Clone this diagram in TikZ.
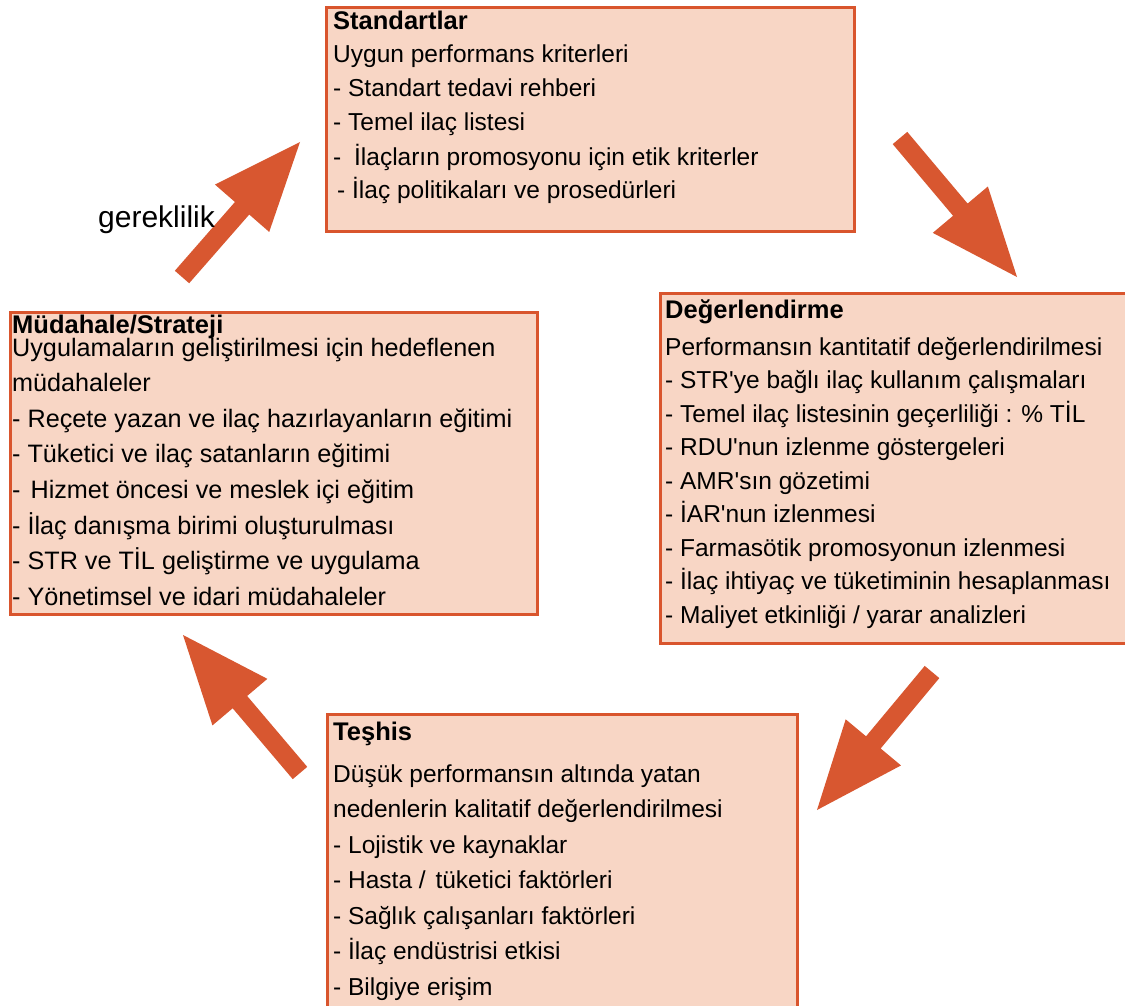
\documentclass[tikz,border=0pt]{standalone}
\usepackage{fontspec}
\setmainfont{Liberation Sans}
\usetikzlibrary{calc}
\definecolor{boxfill}{RGB}{248,214,197}
\definecolor{boxline}{RGB}{217,85,45}
\definecolor{arrowc}{RGB}{216,87,48}
\tikzset{
  panel/.style={draw=boxline, fill=boxfill, line width=3pt, anchor=north west, inner sep=0pt},
  txt/.style={font=\fontsize{24.5}{28}\selectfont, inner sep=0pt, anchor=base west, text=black},
  txtm/.style={txt, font=\fontsize{25.2}{28}\selectfont},
  ttl/.style={txt, font=\fontsize{25.5}{28}\selectfont\bfseries},
}
\newcommand\blockarrow[3]{%
  \coordinate (#3h) at ($(#2)!88pt!(#1)$);
  \fill[arrowc] ($(#1)!9.5pt!90:(#2)$) -- ($(#3h)!9.5pt!90:(#2)$) -- ($(#3h)!36pt!90:(#2)$)
     -- (#2) -- ($(#3h)!36pt!-90:(#2)$) -- ($(#3h)!9.5pt!-90:(#2)$) -- ($(#1)!9.5pt!-90:(#2)$) -- cycle;
}
\begin{document}
\begin{tikzpicture}[x=1pt,y=-1pt]
\clip (0,0) rectangle (1125,1006);
\fill[white] (0,0) rectangle (1125,1006);

% boxes
\node[panel, minimum width=528pt, minimum height=224pt] (std) at (325,6) {};
\node[panel, minimum width=480pt, minimum height=350pt] (deg) at (659,292) {};
\node[panel, minimum width=470pt, minimum height=310pt] (tes) at (326,713) {};
\node[panel, minimum width=527pt, minimum height=302pt] (mud) at (9,311) {};

% Standartlar
\node[ttl] (std0) at (333,30) {Standartlar};
\foreach \t [count=\i] in {Uygun performans kriterleri,
  - Standart tedavi rehberi,
  - Temel ilaç listesi,
  -\hspace{6pt} İlaçların promosyonu için etik kriterler,
  \hspace*{4pt}- İlaç politikaları ve prosedürleri}
  \node[txt] (std\i) at (333,{63+34*(\i-1)}) {\t};

% Degerlendirme
\node[ttl] (deg0) at (665,318) {Değerlendirme};
\foreach \t [count=\i] in {Performansın kantitatif değerlendirilmesi,
  - STR\textquotesingle ye bağlı ilaç kullanım çalışmaları,
  - Temel ilaç listesinin geçerliliği : \% TİL,
  - RDU\textquotesingle nun izlenme göstergeleri,
  - AMR\textquotesingle sın gözetimi,
  - İAR\textquotesingle nun izlenmesi,
  - Farmasötik promosyonun izlenmesi,
  - İlaç ihtiyaç ve tüketiminin hesaplanması,
  - Maliyet etkinliği / yarar analizleri}
  \node[txt] (deg\i) at (665,{355+33.5*(\i-1)}) {\t};

% Teshis
\node[ttl] (tes0) at (333,740) {Teşhis};
\foreach \t [count=\i] in {Düşük performansın altında yatan,
  nedenlerin kalitatif değerlendirilmesi,
  - Lojistik ve kaynaklar,
  - Hasta /\hspace{3pt} tüketici faktörleri,
  - Sağlık çalışanları faktörleri,
  - İlaç endüstrisi etkisi,
  - Bilgiye erişim}
  \node[txt] (tes\i) at (333,{782+35.5*(\i-1)}) {\t};

% Mudahale
\node[ttl] (mud0) at (12,333) {Müdahale/Strateji};
\foreach \t [count=\i] in {Uygulamaların geliştirilmesi için hedeflenen,
  müdahaleler,
  - Reçete yazan ve ilaç hazırlayanların eğitimi,
  - Tüketici ve ilaç satanların eğitimi,
  -\hspace{3pt} Hizmet öncesi ve meslek içi eğitim,
  - İlaç danışma birimi oluşturulması,
  - STR ve TİL geliştirme ve uygulama,
  - Yönetimsel ve idari müdahaleler}
  \node[txtm] (mud\i) at (12,{356+35.6*(\i-1)}) {\t};

% arrows
\coordinate (a1t) at (900,138);  \coordinate (a1h) at (1017,277);
\coordinate (a2t) at (932,672);  \coordinate (a2h) at (817,810);
\coordinate (a3t) at (300,773);  \coordinate (a3h) at (183,635);
\coordinate (a4t) at (182,277);  \coordinate (a4h) at (300,142);
\blockarrow{a1t}{a1h}{ar1}
\blockarrow{a2t}{a2h}{ar2}
\blockarrow{a3t}{a3h}{ar3}
\blockarrow{a4t}{a4h}{ar4}

\node[txt, font=\fontsize{30}{34}\selectfont] (ger) at (98,227) {gereklilik};
\end{tikzpicture}
\end{document}
